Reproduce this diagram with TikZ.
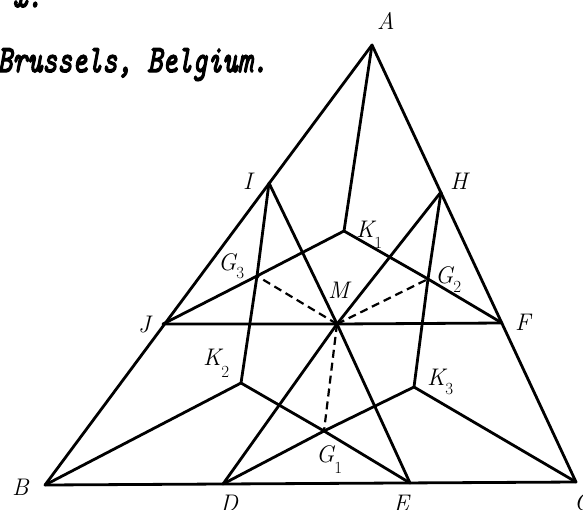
\documentclass[tikz,border=0pt]{standalone}
\usepackage{fontspec}
\usepackage{graphicx}
\begin{document}
\begin{tikzpicture}[x=1pt,y=-1pt,
  edge/.style={line width=2.8pt, line join=round, line cap=round},
  dashedge/.style={line width=2.2pt, dash pattern=on 8pt off 5pt},
  lab/.style={anchor=base west, inner sep=0pt, font=\fontsize{24}{24}\selectfont\itshape},
  typed/.style={anchor=base west, inner sep=0pt, font=\fontsize{28.6}{30}\selectfont\ttfamily\itshape}]
\newcommand{\subl}[2]{\raisebox{-#2pt}{\fontsize{17}{17}\selectfont\upshape #1}}
\newcommand{\fakebold}[1]{\special{pdf:literal direct 2 Tr 1.1 w}#1\special{pdf:literal direct 0 Tr}}
\useasboundingbox (0,0) rectangle (583,509);
\clip (0,0) rectangle (583,509);
% vertices
\coordinate (A) at (372,45);
\coordinate (B) at (45,485);
\coordinate (C) at (576,482);
\coordinate (D) at (223,484);
\coordinate (E) at (410,483);
\coordinate (F) at (502,323);
\coordinate (H) at (441,192);
\coordinate (I) at (269,183);
\coordinate (J) at (163,324);
\coordinate (M) at (337,324);
\coordinate (K1) at (344,231);
\coordinate (K2) at (241,383);
\coordinate (K3) at (414,387);
\coordinate (G1) at (324,431);
\coordinate (G2) at (428,279);
\coordinate (G3) at (257,276);
% lines
\draw[edge] (A)--(B)--(C)--cycle;
\draw[edge] (A)--(K1);
\draw[edge] (J)--(G3)--(K1)--(G2)--(F);
\draw[edge] (I)--(G3)--(K2);
\draw[edge] (B)--(K2)--(G1)--(E);
\draw[edge] (H)--(G2)--(K3);
\draw[edge] (C)--(K3)--(G1)--(D);
\draw[edge] (J)--(M)--(F);
\draw[edge] (I)--(M)--(E);
\draw[edge] (H)--(M)--(D);
\draw[dashedge] (M)--(G1);
\draw[dashedge] (M)--(G2);
\draw[dashedge] (M)--(G3);
% labels
\node[lab] (lA) at (377,29) {A};
\node[lab] (lB) at (12,495) {B};
\node[lab] (lC) at (574,510) {C};
\node[lab] (lD) at (220,511) {D};
\node[lab] (lE) at (393,511) {E};
\node[lab] (lF) at (515,330) {F};
\node[lab] (lH) at (450,189) {H};
\node[lab] (lI) at (243,189) {I};
\node[lab] (lJ) at (138,332) {J};
\node[lab] (lM) at (328,298) {M};
\node[lab] (lK1) at (356,237) {K\subl{1}{11}};
\node[lab] (lK2) at (203,365) {K\subl{2}{12}};
\node[lab] (lK3) at (427,385) {K\subl{3}{9}};
\node[lab] (lG1) at (316,462) {G\subl{1}{11}};
\node[lab] (lG2) at (435,283) {G\subl{2}{9}};
\node[lab] (lG3) at (218,270) {G\subl{3}{8}};
% typed text
\node[typed] (t1) at (12,7) {\fakebold{\scalebox{1}[1.35]{x.}}};
\node[typed] (t2) at (-3,72) {\fakebold{\scalebox{1}[1.35]{Brussels, Belgium.}}};
\end{tikzpicture}
\end{document}
